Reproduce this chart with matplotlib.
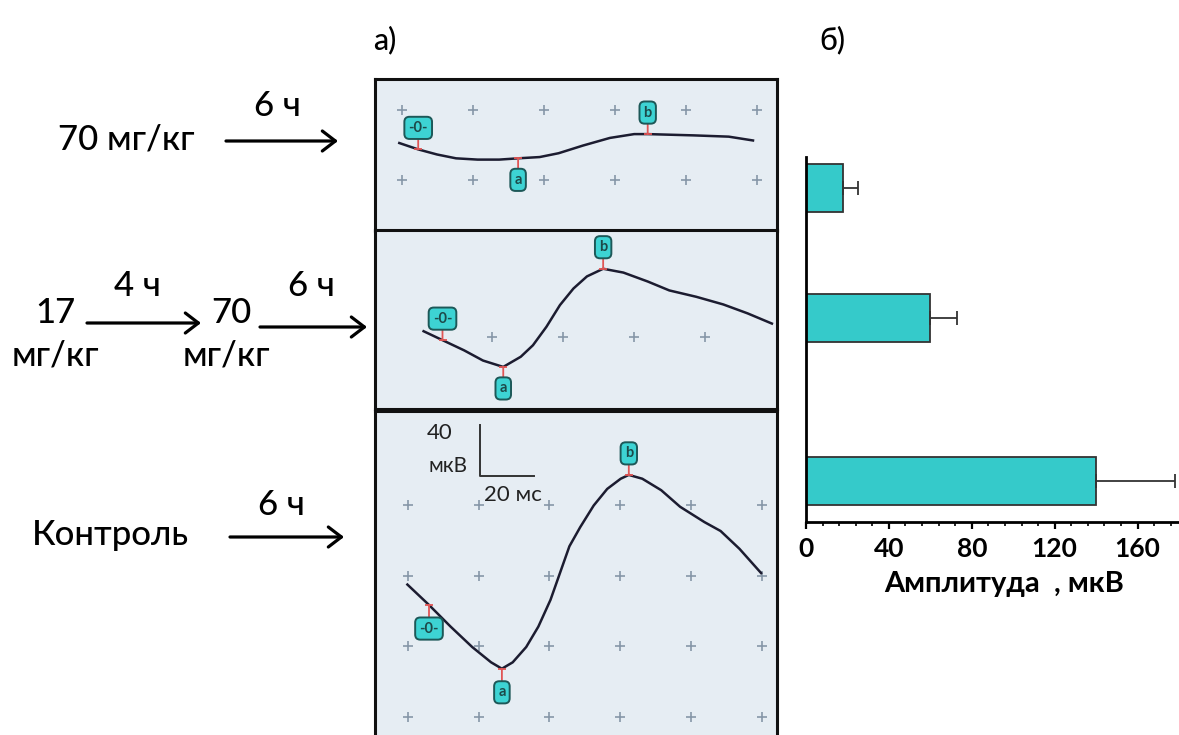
import matplotlib
matplotlib.use("Agg")
import matplotlib.pyplot as plt
import numpy as np

plt.rcParams['font.family'] = ['Lato', 'Noto Sans', 'DejaVu Sans']

W, H = 1179, 735

# left-hand labels
dose_top = "70 мг/кг"
dose_first = ["17", "мг/кг"]
dose_second = ["70", "мг/кг"]
control = "Контроль"
hours = ["6 ч", "4 ч", "6 ч", "6 ч"]
panel_letters = ["а)", "б)"]

# traces: time in ms, amplitude in uV (measured from panel bottom)
t_top = [9, 16, 23, 30, 38, 46, 53, 61, 68, 77, 87, 96, 101, 118, 131, 140]
v_top = [69, 64, 60, 57, 56, 56, 57, 58, 61, 67, 73, 76, 76, 75, 74, 71]

t_mid = [18, 25, 33, 40, 47.5, 54, 58.5, 63.5, 68.5, 73.5, 78.5, 84.5, 92, 101, 109, 119, 129, 138, 147]
v_mid = [61, 54, 46, 38, 33, 41, 50, 64.5, 81.5, 94.5, 104, 110, 107, 100, 93, 88, 82, 75, 67]

t_bot = [12, 14, 20, 28, 36, 43, 47, 51, 56, 60.5, 65, 68.5, 72, 76, 81, 86, 91, 94,
         99, 106, 113, 122, 128, 135, 143]
v_bot = [118, 114, 102, 85, 69, 57, 52, 57, 69, 85, 106, 127, 148, 163, 180, 193, 201, 204,
         201, 192, 179, 167, 160, 146, 127]

# peak marks -0-, a, b
mark_labels = ["-0-", "a", "b"]
marks_top_t = [16, 53, 101]
marks_top_v = [64, 57, 76]
marks_mid_t = [25, 47.5, 84.5]
marks_mid_v = [54, 33, 110]
marks_bot_t = [20, 47, 94]
marks_bot_v = [102, 52, 204]

# scale bar
scale_uv = 40
scale_ms = 20

# bar chart
groups = ["70 мг/кг", "17 + 70 мг/кг", "Контроль"]
amp = [18, 60, 140]
amp_err = [7, 13, 38]

MS = 2.7     # px per ms
UV = 1.275   # px per uV
panel_bg = '#e6edf3'
trace_col = '#1c1c30'
box_fc = '#3dd3d3'
box_ec = '#1d5858'

fig = plt.figure(figsize=(W / 100, H / 100), dpi=100)


def add_panel(top, bottom, base):
    ax = fig.add_axes([375 / W, (H - bottom) / H, 402 / W, (bottom - top) / H])
    ax.set_facecolor(panel_bg)
    ax.set_xlim(0, 402 / MS)
    ax.set_ylim((base - bottom) / UV, (base - top) / UV)
    ax.set_xticks([])
    ax.set_yticks([])
    for s in ax.spines.values():
        s.set_linewidth(2.2)
        s.set_color('#111111')
    return ax


def draw_trace(ax, t, v, mt, mv, offsets):
    ax.plot(t, v, color=trace_col, lw=1.8, zorder=3, solid_joinstyle='round')
    for lab, x, y, dy in zip(mark_labels, mt, mv, offsets):
        ax.annotate(lab, xy=(x, y), xytext=(0, dy), textcoords='offset points',
                    ha='center', va='center', fontsize=10.5, color='#1d4a4a',
                    fontweight='bold',
                    bbox=dict(boxstyle='round,pad=0.28,rounding_size=0.35',
                              fc=box_fc, ec=box_ec, lw=1.4),
                    arrowprops=dict(arrowstyle='-', color='#e05555', lw=1.3,
                                    shrinkA=0, shrinkB=0),
                    zorder=4)
        ax.plot(x, y, marker='_', color='#e05555', ms=6, mew=1.3, zorder=4)


def draw_grid(ax, tx, vy):
    tt, vv = np.meshgrid(tx, vy)
    ax.plot(tt.ravel(), vv.ravel(), ls='none', marker='+', ms=7, mew=1.2,
            color='#8797a8', zorder=2)


ax1 = add_panel(79, 231, 231)
draw_grid(ax1, 10 + 26.3 * np.arange(6), [40, 95])
draw_trace(ax1, t_top, v_top, marks_top_t, marks_top_v, [15.5, -15.5, 15.5])

ax2 = add_panel(230, 409, 409)
draw_grid(ax2, 43.3 + 26.3 * np.arange(4), [56.5])
draw_trace(ax2, t_mid, v_mid, marks_mid_t, marks_mid_v, [15.5, -15.5, 15.5])

ax3 = add_panel(411, 738, 735)
draw_grid(ax3, 12.2 + 26.2 * np.arange(6), 14.1 + 55.4 * np.arange(4))
draw_trace(ax3, t_bot, v_bot, marks_bot_t, marks_bot_v, [-17, -17, 15.5])
sx, sy = 38.9, 203.1
ax3.plot([sx, sx, sx + scale_ms], [sy + scale_uv, sy, sy], color='#333333', lw=1.4)
ax3.text(24, 237, str(scale_uv), ha='center', va='center', fontsize=16, color='#222222')
ax3.text(27, 211, "мкВ", ha='center', va='center', fontsize=15, color='#222222')
ax3.text(51, 188, str(scale_ms) + " мс", ha='center', va='center', fontsize=16, color='#222222')

# bar chart
bx = fig.add_axes([806 / W, (H - 522) / H, 373 / W, 365 / H])
ypos = [6.96, 4.25, 0.85]
bx.barh(ypos, amp, height=1.0, color='#35caca', edgecolor='#333333', linewidth=1.3, zorder=2)
bx.errorbar(amp, ypos, xerr=[np.zeros(len(amp)), amp_err], fmt='none', ecolor='#333333',
            elinewidth=1.3, capsize=5, capthick=1.3, zorder=3)
bx.set_xlim(0, 180)
bx.set_ylim(0, 7.6)
bx.set_yticks([])
bx.spines['top'].set_visible(False)
bx.spines['right'].set_visible(False)
bx.spines['left'].set_linewidth(2)
bx.spines['bottom'].set_linewidth(2)
bx.set_xticks(np.arange(0, 161, 40))
bx.set_xticks(np.arange(0, 181, 8), minor=True)
bx.tick_params(axis='x', which='major', direction='out', length=5, width=1.6,
               labelsize=19, pad=6)
bx.tick_params(axis='x', which='minor', direction='out', length=3, width=1.2)
for lab in bx.get_xticklabels():
    lab.set_fontweight('bold')
bx.set_xlabel("Амплитуда  , мкВ", fontsize=21, fontweight='bold')
bx.xaxis.set_label_coords(0.53, -0.135)
bx.xaxis.label.set_va('top')

# overlay for left labels and arrows, in pixel coordinates
ov = fig.add_axes([0, 0, 1, 1])
ov.set_xlim(0, W)
ov.set_ylim(H, 0)
ov.set_axis_off()

fs = 25
fw = 'medium'
ov.text(126, 139, dose_top, ha='center', va='center', fontsize=fs, fontweight=fw)
ov.text(55, 313, dose_first[0], ha='center', va='center', fontsize=fs, fontweight=fw)
ov.text(55, 355, dose_first[1], ha='center', va='center', fontsize=fs, fontweight=fw)
ov.text(231, 313, dose_second[0], ha='center', va='center', fontsize=fs, fontweight=fw)
ov.text(226, 355, dose_second[1], ha='center', va='center', fontsize=fs, fontweight=fw)
ov.text(110, 535, control, ha='center', va='center', fontsize=fs, fontweight=fw)

ov.text(277, 106, hours[0], ha='center', va='center', fontsize=fs, fontweight=fw)
ov.text(137, 286, hours[1], ha='center', va='center', fontsize=fs, fontweight=fw)
ov.text(311, 286, hours[2], ha='center', va='center', fontsize=fs, fontweight=fw)
ov.text(281, 505, hours[3], ha='center', va='center', fontsize=fs, fontweight=fw)

ov.text(385, 40, panel_letters[0], ha='center', va='center', fontsize=22, fontweight=fw)
ov.text(832, 40, panel_letters[1], ha='center', va='center', fontsize=22, fontweight=fw)

arrows = [((226, 141), (338, 141)), ((87, 323), (201, 323)),
          ((260, 327), (367, 327)), ((230, 537), (344, 537))]
for a, b in arrows:
    ov.annotate('', xy=b, xytext=a,
                arrowprops=dict(arrowstyle='->,head_length=0.47,head_width=0.36',
                                lw=2.3, color='black', mutation_scale=20,
                                shrinkA=0, shrinkB=0))

fig.savefig("out.png", dpi=100)
